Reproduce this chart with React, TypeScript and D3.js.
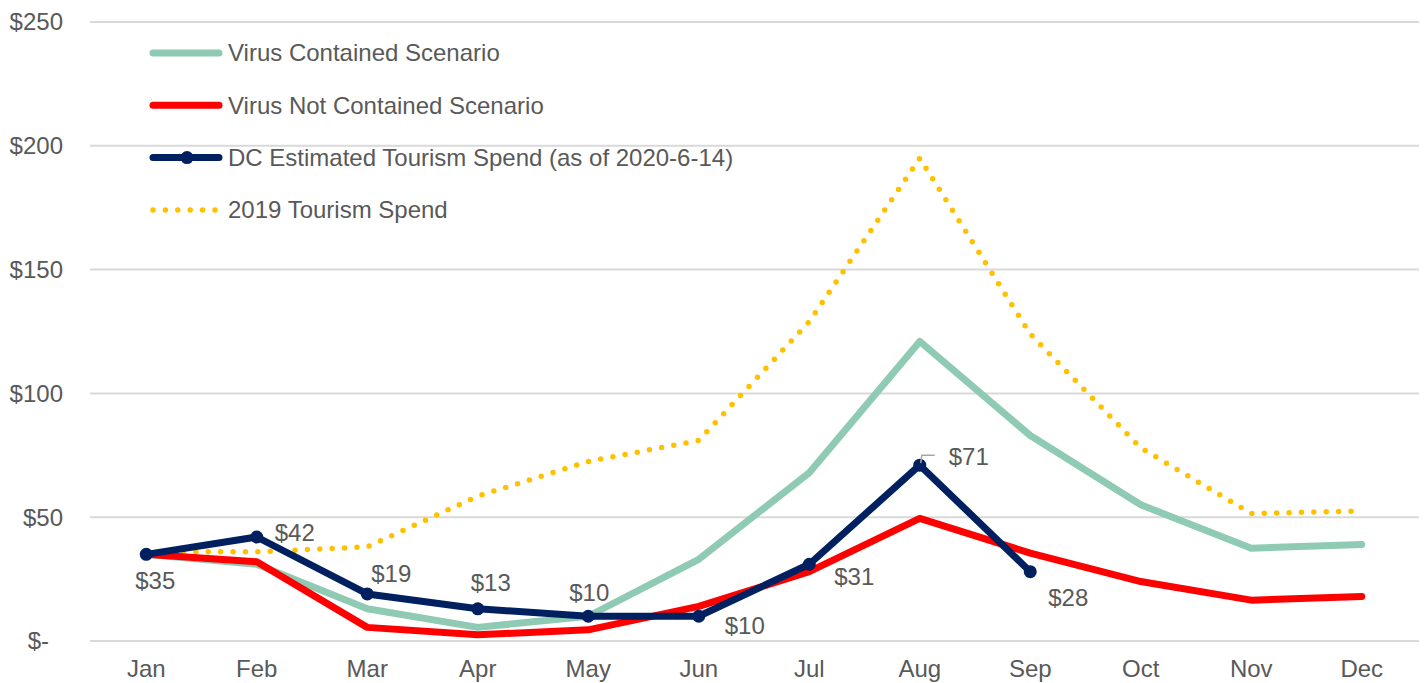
import React from 'react';
import * as d3 from 'd3';

const months = ['Jan', 'Feb', 'Mar', 'Apr', 'May', 'Jun', 'Jul', 'Aug', 'Sep', 'Oct', 'Nov', 'Dec'];
const containedValues = [35, 31, 13, 5.5, 10, 33, 68, 121, 83, 55, 37.5, 39];
const notContainedValues = [35, 32, 5.5, 2.5, 4.5, 14, 28, 49.5, 35.5, 24, 16.5, 18];
const dcEstimateValues = [35, 42, 19, 13, 10, 10, 31, 71, 28];
const spend2019Values = [36, 36, 38, 58.5, 72.5, 81, 129, 195, 124, 78, 51.5, 52.5];
const yTicks = [0, 50, 100, 150, 200, 250];

const legendItems = [
  { label: 'Virus Contained Scenario', color: '#8FCAB4', kind: 'solid' },
  { label: 'Virus Not Contained Scenario', color: '#FF0000', kind: 'solid' },
  { label: 'DC Estimated Tourism Spend (as of 2020-6-14)', color: '#002060', kind: 'marker' },
  { label: '2019 Tourism Spend', color: '#FFC000', kind: 'dotted' },
];

// label offsets from each point (center of text), like the hand-placed Excel labels
const labelOffsets: [number, number][] = [
  [9, 26], [38, -4], [24, -20], [13, -26], [1, -24], [46, 9], [45, 12], [49, -9], [38, 26],
];

const W = 1424;
const H = 683;
const textColor = '#595959';
const font = '"Liberation Sans", Arial, sans-serif';

export default function App() {
  const x = d3.scalePoint<string>().domain(months).range([91, 1417]).padding(0.5);
  const y = d3.scaleLinear().domain([0, 250]).range([641, 22]);

  const line = d3
    .line<number>()
    .x((_, i) => x(months[i]) as number)
    .y((d) => y(d));

  const money = (v: number) => (v === 0 ? '$-' : `$${v}`);

  return (
    <svg width={W} height={H} style={{ position: 'absolute', left: 0, top: 0, background: '#fff' }} fontFamily={font}>
      {/* gridlines */}
      {yTicks.map((t) => (
        <line key={t} x1={90} x2={1419} y1={y(t)} y2={y(t)} stroke="#D9D9D9" strokeWidth={2} />
      ))}
      {/* y axis labels */}
      {yTicks.map((t) => (
        <text key={t} x={t === 0 ? 49 : 63} y={y(t)} dy="0.35em" textAnchor="end" fontSize={24} fill={textColor}>
          {money(t)}
        </text>
      ))}
      {/* x axis labels */}
      {months.map((m) => (
        <text key={m} x={x(m)} y={669} dy="0.35em" textAnchor="middle" fontSize={24} fill={textColor}>
          {m}
        </text>
      ))}

      <path d={line(spend2019Values) || ''} fill="none" stroke="#FFC000" strokeWidth={5.5} strokeDasharray="0 12.4" strokeLinecap="round" />
      <path d={line(containedValues) || ''} fill="none" stroke="#8FCAB4" strokeWidth={7} strokeLinejoin="round" strokeLinecap="round" />
      <path d={line(notContainedValues) || ''} fill="none" stroke="#FF0000" strokeWidth={7} strokeLinejoin="round" strokeLinecap="round" />
      <path d={line(dcEstimateValues) || ''} fill="none" stroke="#002060" strokeWidth={7} strokeLinejoin="round" strokeLinecap="round" />
      {dcEstimateValues.map((v, i) => (
        <circle key={i} cx={x(months[i])} cy={y(v)} r={6.5} fill="#002060" />
      ))}

      {/* data labels */}
      {dcEstimateValues.map((v, i) => {
        const px = x(months[i]) as number;
        const py = y(v);
        const [dx, dy] = labelOffsets[i];
        return (
          <text key={i} x={px + dx} y={py + dy} dy="0.35em" textAnchor="middle" fontSize={24} fill={textColor}>
            {money(v)}
          </text>
        );
      })}
      {/* leader line for the Aug label */}
      {(() => {
        const px = x(months[7]) as number;
        const py = y(dcEstimateValues[7]);
        return (
          <path d={`M${px + 1},${py - 2}L${px + 2},${py - 10}L${px + 15},${py - 10}`} fill="none" stroke="#A6A6A6" strokeWidth={1.5} />
        );
      })()}

      {/* legend */}
      {legendItems.map((item, i) => {
        const ly = 53 + i * 52.3;
        return (
          <g key={item.label}>
            {item.kind === 'dotted' ? (
              <line x1={153} x2={218} y1={ly} y2={ly} stroke={item.color} strokeWidth={5.5} strokeDasharray="0 12.4" strokeLinecap="round" />
            ) : (
              <line x1={153} x2={219} y1={ly} y2={ly} stroke={item.color} strokeWidth={7} strokeLinecap="round" />
            )}
            {item.kind === 'marker' && <circle cx={187} cy={ly} r={6.5} fill={item.color} />}
            <text x={228} y={ly} dy="0.35em" fontSize={24} fill={textColor}>
              {item.label}
            </text>
          </g>
        );
      })}
    </svg>
  );
}
